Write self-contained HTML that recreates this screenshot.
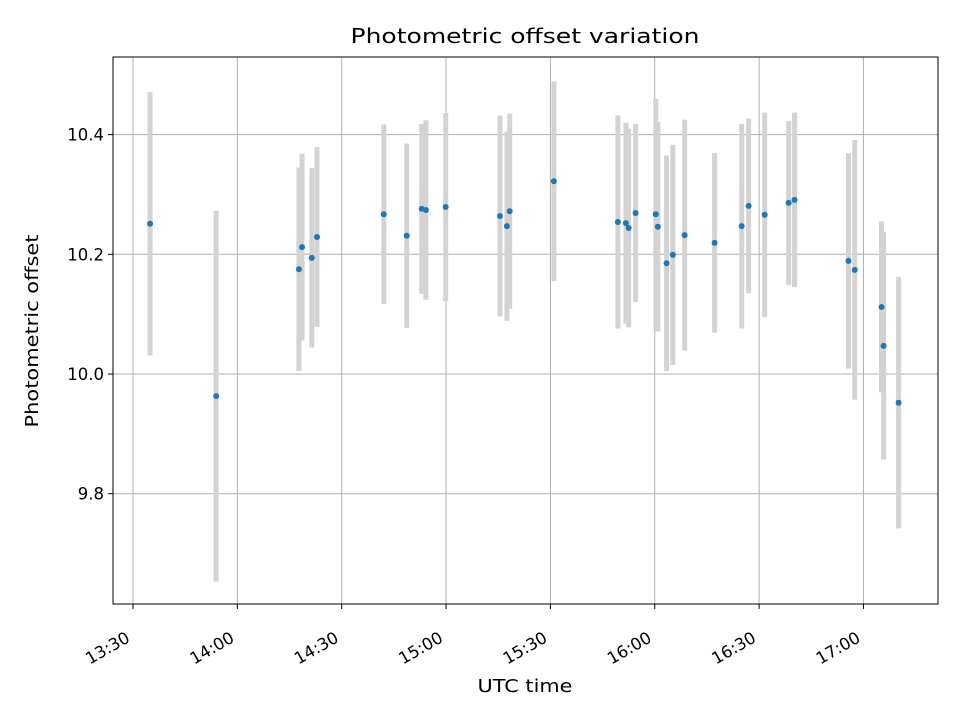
<!DOCTYPE html>
<html><head><meta charset="utf-8"><style>
body{margin:0;background:#fff}
svg{display:block;font-family:"DejaVu Sans","Liberation Sans",sans-serif}
</style></head><body>
<svg id="chart" width="960" height="720" xmlns="http://www.w3.org/2000/svg">
<rect width="960" height="720" fill="#fff"/>
<text x="525" y="43" text-anchor="middle" font-size="20" textLength="349" lengthAdjust="spacingAndGlyphs">Photometric offset variation</text>
<g id="grid"></g><g id="bars"></g><g id="pts"></g>
<rect x="113" y="57" width="825" height="547" fill="none" stroke="#000" stroke-width="1"/>
<g id="axes"></g>
<text x="525" y="692" text-anchor="middle" font-size="18" textLength="95" lengthAdjust="spacingAndGlyphs">UTC time</text>
<text transform="translate(38,331) rotate(-90)" text-anchor="middle" font-size="18" textLength="193" lengthAdjust="spacingAndGlyphs">Photometric offset</text>
</svg>
<script>
// minutes since 13:30
const times=[4.9,23.9,47.7,48.6,51.4,52.9,72.1,78.7,83.0,84.2,89.9,105.5,107.5,108.3,121.0,139.4,141.7,142.5,144.5,150.3,150.9,153.4,155.2,158.6,167.2,175.0,177.0,181.6,188.5,190.2,205.7,207.5,215.2,215.8,220.1];
const offsets=[10.251,9.963,10.175,10.212,10.194,10.229,10.267,10.231,10.276,10.274,10.279,10.264,10.247,10.272,10.322,10.254,10.252,10.244,10.269,10.267,10.246,10.185,10.199,10.232,10.219,10.247,10.281,10.266,10.286,10.291,10.189,10.174,10.112,10.047,9.952];
const errors=[0.22,0.31,0.17,0.156,0.15,0.15,0.15,0.154,0.142,0.15,0.157,0.168,0.158,0.163,0.167,0.178,0.168,0.166,0.149,0.193,0.175,0.18,0.184,0.193,0.15,0.171,0.146,0.171,0.137,0.146,0.18,0.217,0.143,0.19,0.21];
const xTickMin=[0,30,60,90,120,150,180,210];
const xTickLabels=["13:30","14:00","14:30","15:00","15:30","16:00","16:30","17:00"];
const yTicks=[9.8,10.0,10.2,10.4];
const yTickLabels=["9.8","10.0","10.2","10.4"];
const x=m=>133+m*3.4783;
const y=v=>374-(v-10)*598.5;
const NS="http://www.w3.org/2000/svg";
function mk(t,a,p){const e=document.createElementNS(NS,t);for(const k in a)e.setAttribute(k,a[k]);document.getElementById(p).appendChild(e);return e;}
xTickMin.forEach((m,i)=>{
  const g=mk("line",{x1:x(m),x2:x(m),y1:57,y2:604,stroke:"#b0b0b0","stroke-width":1},"grid");
  
  
  const t=mk("line",{x1:x(m),x2:x(m),y1:604,y2:609,stroke:"#000"},"axes");
  
  
  const l=mk("text",{transform:`translate(${x(m)-2},${641}) rotate(-30)`,"text-anchor":"end","font-size":"16.5"},"axes");
  l.textContent=xTickLabels[i];
  
  
});
yTicks.forEach((v,i)=>{
  const g=mk("line",{x1:113,x2:938,y1:y(v),y2:y(v),stroke:"#b0b0b0","stroke-width":1},"grid");
  
  
  const t=mk("line",{x1:108,x2:113,y1:y(v),y2:y(v),stroke:"#000"},"axes");
  
  
  const l=mk("text",{x:104,y:y(v)+6,"text-anchor":"end","font-size":"16.5"},"axes");
  l.textContent=yTickLabels[i];
  
  
});
times.forEach((m,i)=>{
  const b=mk("line",{x1:x(m),x2:x(m),y1:y(offsets[i]+errors[i]),y2:y(offsets[i]-errors[i]),stroke:"#d3d3d3","stroke-width":5},"bars");
  
  
  const c=mk("circle",{cx:x(m),cy:y(offsets[i]),r:3,fill:"#1f77b4"},"pts");
  
  
});
</script>
</body></html>
